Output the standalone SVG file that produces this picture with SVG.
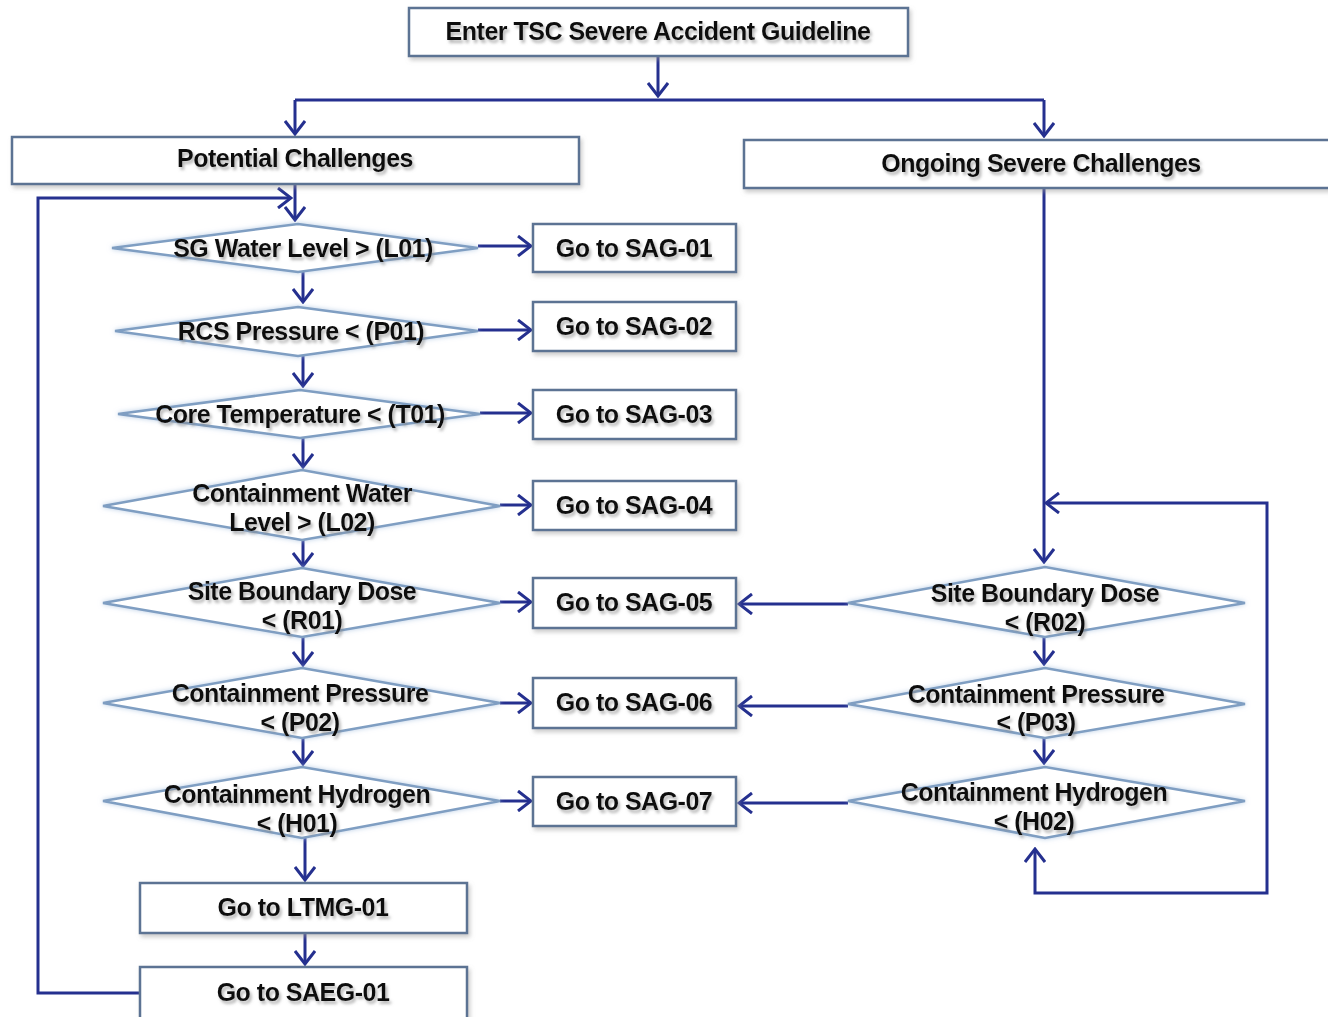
<svg xmlns="http://www.w3.org/2000/svg" width="1328" height="1017" viewBox="0 0 1328 1017">
<defs>
<style>
.box{fill:#fff;stroke:#5b7393;stroke-width:2.5;filter:url(#bs)}
.dia{fill:#fff;stroke:#7f9ec2;stroke-width:2.5;filter:url(#ds)}
.t{font-family:"Liberation Sans",Arial,sans-serif;font-weight:bold;font-size:25px;fill:#111;text-anchor:middle;dominant-baseline:central;letter-spacing:-0.5px;filter:url(#ts)}
.c{fill:none;stroke:#25308f;stroke-width:3}
</style>
<filter id="ts" x="-10%" y="-40%" width="120%" height="180%">
<feGaussianBlur in="SourceAlpha" stdDeviation="1.8"/>
<feOffset dx="2" dy="3" result="b"/>
<feFlood flood-color="#888" flood-opacity="0.6"/>
<feComposite in2="b" operator="in"/>
<feMerge><feMergeNode/><feMergeNode in="SourceGraphic"/></feMerge>
</filter>
<filter id="bs" x="-5%" y="-20%" width="110%" height="140%">
<feDropShadow dx="2" dy="3" stdDeviation="2" flood-color="#999" flood-opacity="0.5"/>
</filter>
<filter id="ds" x="-5%" y="-20%" width="110%" height="140%">
<feDropShadow dx="0" dy="0" stdDeviation="2.5" flood-color="#a9c2e0" flood-opacity="0.8"/>
</filter>
<marker id="a" viewBox="0 0 16 22" refX="14" refY="11" markerWidth="16" markerHeight="22" markerUnits="userSpaceOnUse" orient="auto-start-reverse">
<path d="M1,1 L14,11 L1,21" fill="none" stroke="#25308f" stroke-width="3"/>
</marker>
</defs>
<rect width="1328" height="1017" fill="#fff"/>

<g id="connectors">
<path class="c" d="M658,56 V96" marker-end="url(#a)"/>
<path class="c" d="M295,100 H1044"/>
<path class="c" d="M295,100 V134" marker-end="url(#a)"/>
<path class="c" d="M1044,100 V136" marker-end="url(#a)"/>
<path class="c" d="M295,184 V220" marker-end="url(#a)"/>
<path class="c" d="M140,993 H38 V198 H291" marker-end="url(#a)"/>
<path class="c" d="M303,272 V302" marker-end="url(#a)"/>
<path class="c" d="M303,356 V386" marker-end="url(#a)"/>
<path class="c" d="M303,438 V467" marker-end="url(#a)"/>
<path class="c" d="M303,540 V566" marker-end="url(#a)"/>
<path class="c" d="M303,637 V665" marker-end="url(#a)"/>
<path class="c" d="M303,738 V764" marker-end="url(#a)"/>
<path class="c" d="M305,838 V880" marker-end="url(#a)"/>
<path class="c" d="M305,933 V964" marker-end="url(#a)"/>
<path class="c" d="M478,246 H531" marker-end="url(#a)"/>
<path class="c" d="M478,330 H531" marker-end="url(#a)"/>
<path class="c" d="M480,413 H531" marker-end="url(#a)"/>
<path class="c" d="M500,505 H531" marker-end="url(#a)"/>
<path class="c" d="M500,602 H531" marker-end="url(#a)"/>
<path class="c" d="M500,703 H531" marker-end="url(#a)"/>
<path class="c" d="M500,801 H531" marker-end="url(#a)"/>
<path class="c" d="M1044,188 V562" marker-end="url(#a)"/>
<path class="c" d="M1046,503 H1267 V893 H1035 V849" marker-start="url(#a)" marker-end="url(#a)"/>
<path class="c" d="M848,604 H739" marker-end="url(#a)"/>
<path class="c" d="M848,706 H739" marker-end="url(#a)"/>
<path class="c" d="M848,803 H739" marker-end="url(#a)"/>
<path class="c" d="M1044,637 V664" marker-end="url(#a)"/>
<path class="c" d="M1044,738 V763" marker-end="url(#a)"/>
</g>

<g id="enter"><rect class="box" x="409" y="8" width="499" height="48"/><text class="t" x="658" y="31">Enter TSC Severe Accident Guideline</text></g>
<g id="potential"><rect class="box" x="12" y="137" width="567" height="47"/><text class="t" x="295" y="158">Potential Challenges</text></g>
<g id="ongoing"><rect class="box" x="744" y="140" width="600" height="48"/><text class="t" x="1041" y="163">Ongoing Severe Challenges</text></g>

<g id="d-l01"><polygon class="dia" points="112,248 298,224 478,248 298,272"/><text class="t" x="303" y="248">SG Water Level &gt; (L01)</text></g>
<g id="d-p01"><polygon class="dia" points="115,331 298,307 478,331 298,356"/><text class="t" x="301" y="331">RCS Pressure &lt; (P01)</text></g>
<g id="d-t01"><polygon class="dia" points="118,414 300,390 480,414 300,438"/><text class="t" x="300" y="414">Core Temperature &lt; (T01)</text></g>
<g id="d-l02"><polygon class="dia" points="103,506 302,470 500,506 302,540"/><text class="t" x="302" y="493">Containment Water</text><text class="t" x="302" y="522">Level &gt; (L02)</text></g>
<g id="d-r01"><polygon class="dia" points="103,603 302,568 500,603 302,637"/><text class="t" x="302" y="591">Site Boundary Dose</text><text class="t" x="302" y="620">&lt; (R01)</text></g>
<g id="d-p02"><polygon class="dia" points="103,703 302,668 500,703 302,738"/><text class="t" x="300" y="693">Containment Pressure</text><text class="t" x="300" y="722">&lt; (P02)</text></g>
<g id="d-h01"><polygon class="dia" points="103,801 302,767 500,801 302,838"/><text class="t" x="297" y="794">Containment Hydrogen</text><text class="t" x="297" y="823">&lt; (H01)</text></g>

<g id="sag01"><rect class="box" x="533" y="224" width="203" height="48"/><text class="t" x="634" y="248">Go to SAG-01</text></g>
<g id="sag02"><rect class="box" x="533" y="302" width="203" height="49"/><text class="t" x="634" y="326">Go to SAG-02</text></g>
<g id="sag03"><rect class="box" x="533" y="390" width="203" height="49"/><text class="t" x="634" y="414">Go to SAG-03</text></g>
<g id="sag04"><rect class="box" x="533" y="481" width="203" height="49"/><text class="t" x="634" y="505">Go to SAG-04</text></g>
<g id="sag05"><rect class="box" x="533" y="578" width="203" height="50"/><text class="t" x="634" y="602">Go to SAG-05</text></g>
<g id="sag06"><rect class="box" x="533" y="678" width="203" height="50"/><text class="t" x="634" y="702">Go to SAG-06</text></g>
<g id="sag07"><rect class="box" x="533" y="777" width="203" height="49"/><text class="t" x="634" y="801">Go to SAG-07</text></g>

<g id="ltmg01"><rect class="box" x="140" y="883" width="327" height="50"/><text class="t" x="303" y="907">Go to LTMG-01</text></g>
<g id="saeg01"><rect class="box" x="140" y="967" width="327" height="60"/><text class="t" x="303" y="992">Go to SAEG-01</text></g>

<g id="d-r02"><polygon class="dia" points="848,603 1045,567 1245,603 1045,637"/><text class="t" x="1045" y="593">Site Boundary Dose</text><text class="t" x="1045" y="622">&lt; (R02)</text></g>
<g id="d-p03"><polygon class="dia" points="848,704 1045,668 1245,704 1045,738"/><text class="t" x="1036" y="694">Containment Pressure</text><text class="t" x="1036" y="722">&lt; (P03)</text></g>
<g id="d-h02"><polygon class="dia" points="848,801 1045,767 1245,801 1045,838"/><text class="t" x="1034" y="792">Containment Hydrogen</text><text class="t" x="1034" y="821">&lt; (H02)</text></g>
</svg>
